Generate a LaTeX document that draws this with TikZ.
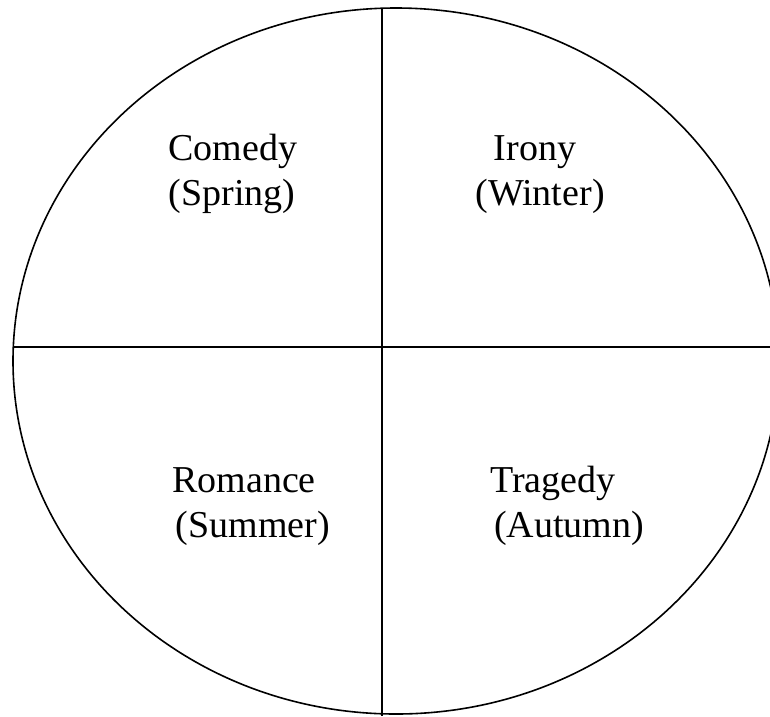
\documentclass[tikz,border=0pt]{standalone}
\usepackage{fontspec}
\setmainfont{Liberation Serif}
\begin{document}
\begin{tikzpicture}[x=1pt,y=-1pt,
  divider/.style={draw=black,line width=1.6pt},
  season/.style={anchor=base,inner sep=0pt,font=\fontsize{38}{44}\selectfont}]
\useasboundingbox (0,0) rectangle (770,716);
\clip (0,0) rectangle (770,716);
\draw[divider] (396,361) ellipse [x radius=383, y radius=353];
\coordinate (top) at (382,9);
\coordinate (bottom) at (382,716);
\coordinate (left) at (13,347);
\coordinate (right) at (775,347);
\draw[divider] (top) -- (bottom);
\draw[divider] (left) -- (right);
\node[season] (comedy) at (233,160) {Comedy};
\node[season] (spring) at (232,205) {(Spring)};
\node[season] (irony) at (535,160) {Irony};
\node[season] (winter) at (540,205) {(Winter)};
\node[season] (romance) at (244,492) {Romance};
\node[season] (summer) at (253,537) {(Summer)};
\node[season] (tragedy) at (553,492) {Tragedy};
\node[season] (autumn) at (569,537) {(Autumn)};
\end{tikzpicture}
\end{document}
